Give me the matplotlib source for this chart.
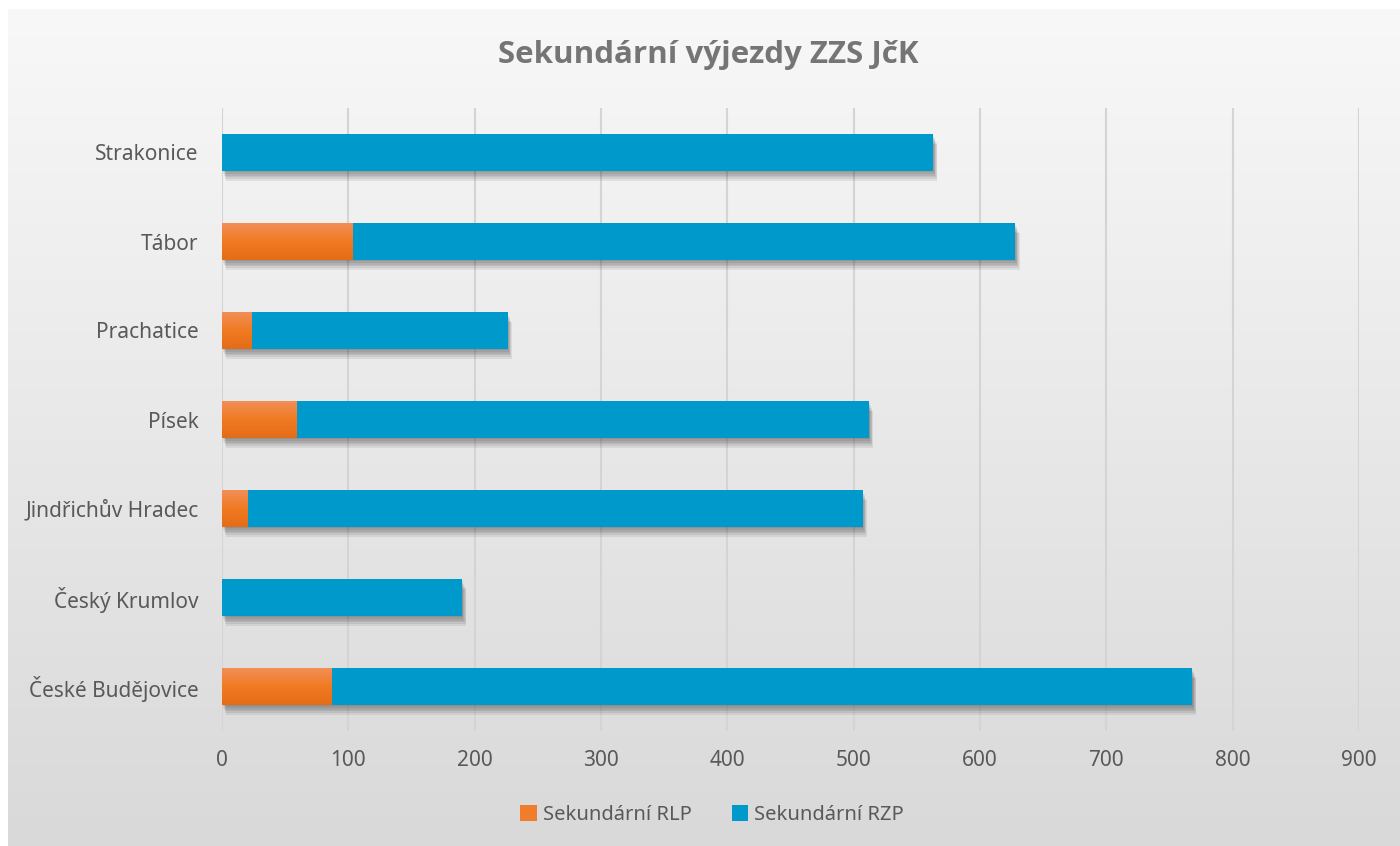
import matplotlib.pyplot as plt
import matplotlib.patheffects as pe
import numpy as np

plt.rcParams['font.family'] = ['Noto Sans', 'DejaVu Sans']

okresy = ["České Budějovice", "Český Krumlov", "Jindřichův Hradec", "Písek",
          "Prachatice", "Tábor", "Strakonice"]
rlp = [87, 0, 20, 59, 23, 103, 0]
rzp = [681, 190, 487, 453, 203, 525, 563]
serie = ["Sekundární RLP", "Sekundární RZP"]

orange = "#ef7d2c"
blue = "#0099cc"
text_col = "#595959"

fig = plt.figure(figsize=(14, 8.46), dpi=100)
fig.patch.set_facecolor("white")

# gradient background of the chart area
bg = fig.add_axes([8 / 1400, 0, 1 - 8 / 1400, 1 - 9 / 846], zorder=-5)
grad = np.linspace(0, 1, 256).reshape(-1, 1)
bg.imshow(grad, aspect="auto", cmap=plt.matplotlib.colors.LinearSegmentedColormap.from_list(
    "bg", ["#f8f8f8", "#d9d9d9"]), extent=[0, 1, 0, 1], origin="upper")
bg.set_xlim(0, 1)
bg.set_ylim(0, 1)
bg.axis("off")

ax = fig.add_axes([222 / 1400, 1 - 731 / 846, (1359 - 222) / 1400, (731 - 108) / 846])
ax.patch.set_alpha(0)

y = np.arange(len(okresy))
# soft drop shadow: several faint offset copies
shadow = [pe.SimplePatchShadow(offset=(o * 0.5, -o * 1.2), shadow_rgbFace="black", alpha=0.07)
          for o in (1, 2, 3, 4, 5, 6)] + [pe.Normal()]
b1 = ax.barh(y, rlp, height=0.41, color=orange, label=serie[0], zorder=3)
b2 = ax.barh(y, rzp, left=rlp, height=0.41, color=blue, label=serie[1], zorder=3)
for b in list(b2) + list(b1):
    if b.get_width() > 0:
        b.set_path_effects(shadow)

# orange gradient fill on RLP bars
ocmap = plt.matplotlib.colors.LinearSegmentedColormap.from_list(
    "or", ["#f28f57", "#f07a22", "#e56c17"])
for b in b1:
    if b.get_width() <= 0:
        continue
    x0, y0 = b.get_x(), b.get_y()
    im = ax.imshow(grad, aspect="auto", cmap=ocmap, origin="lower",
                   extent=[x0, x0 + b.get_width(), y0 + b.get_height(), y0], zorder=4)
    im.set_clip_path(b)

ax.set_xlim(0, 900)
ax.set_ylim(-0.5, len(okresy) - 0.5)
ax.set_aspect("auto")
ax.set_xticks(np.arange(0, 901, 100))
ax.set_yticks(y)
ax.set_yticklabels(okresy)
ax.tick_params(axis="both", length=0, labelsize=15, colors=text_col)
ax.tick_params(axis="x", pad=14)
ax.tick_params(axis="y", pad=17)
ax.grid(axis="x", color="#d4d4d4", linewidth=1.5, zorder=0)
ax.set_axisbelow(True)
for s in ax.spines.values():
    s.set_visible(False)

fig.text(708 / 1400, 1 - 55 / 846, "Sekundární výjezdy ZZS JčK", ha="center", va="center",
         fontsize=22.5, fontweight="bold", color="#757575", family=["Open Sans", "DejaVu Sans"])

leg = fig.legend(handles=[b1, b2], labels=serie, loc="center", bbox_to_anchor=(712 / 1400, 1 - 815 / 846),
                 ncol=2, frameon=False, fontsize=14.5, labelcolor=text_col, handlelength=0.8,
                 handleheight=0.8, handletextpad=0.3, columnspacing=2.0)
for h in leg.legend_handles:
    h.set_path_effects([])

fig.savefig("out.png", dpi=100)
